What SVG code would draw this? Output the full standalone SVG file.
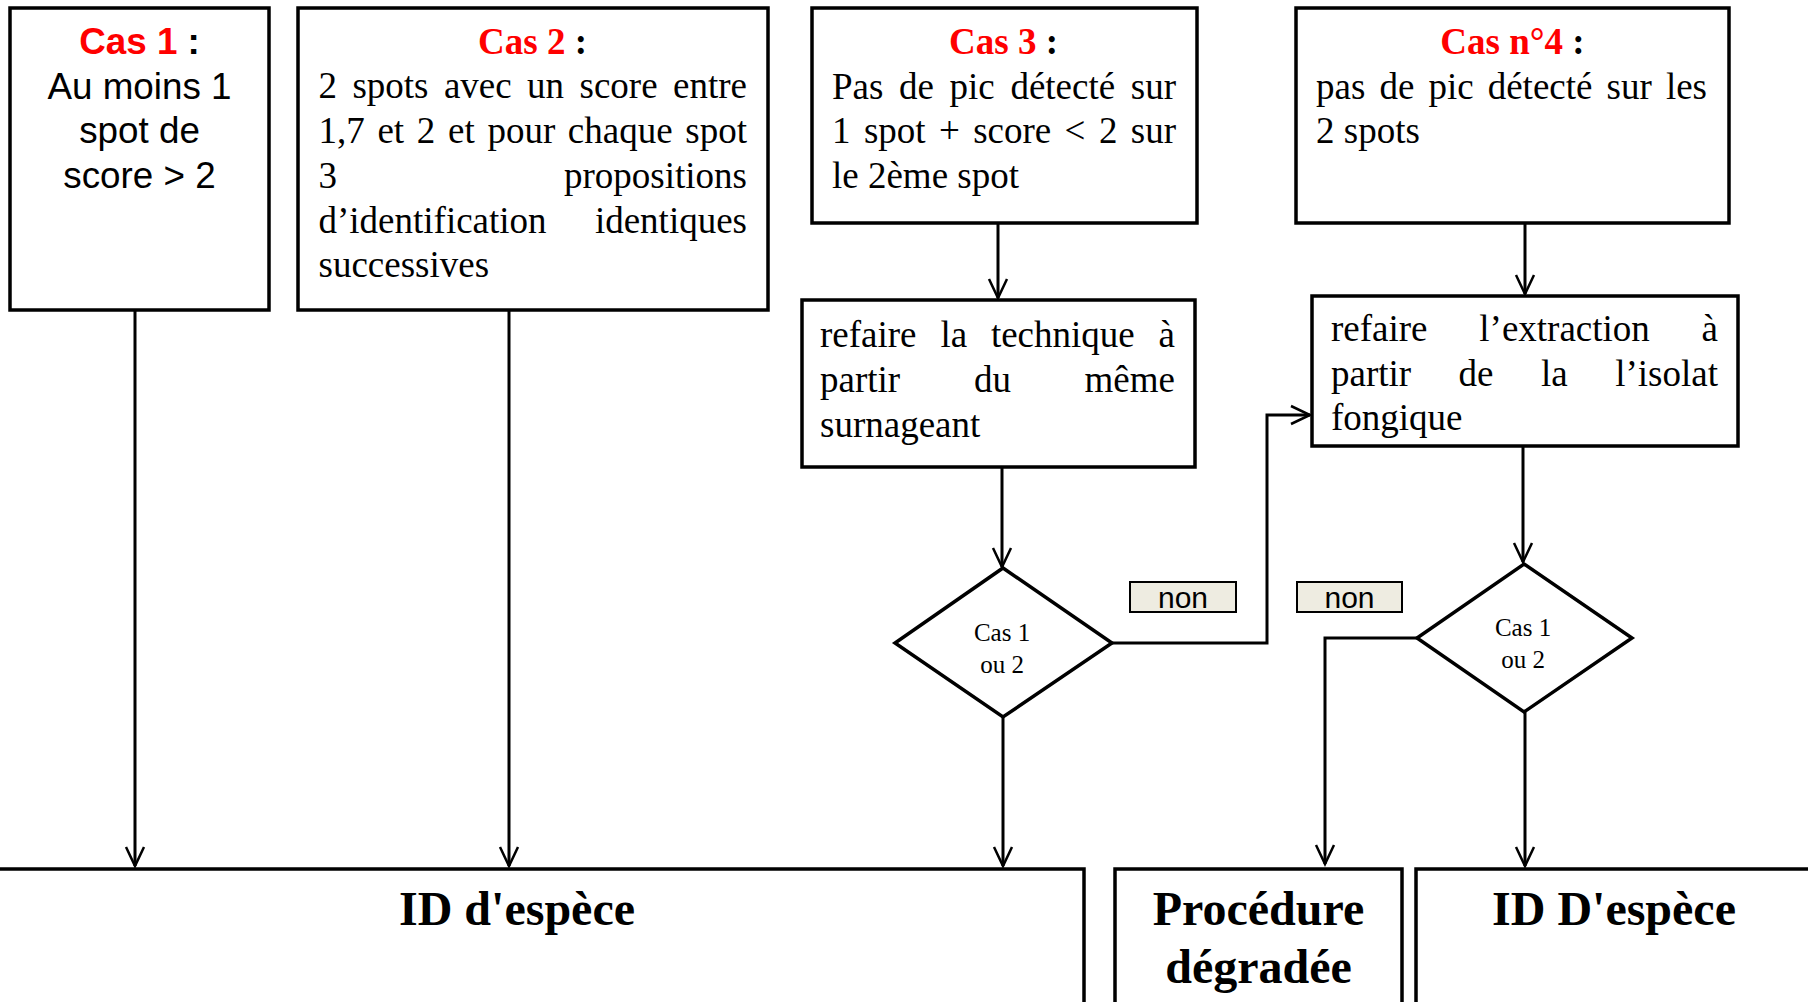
<svg xmlns="http://www.w3.org/2000/svg" width="1808" height="1002" viewBox="0 0 1808 1002">
  <style>
    .box { fill: #ffffff; stroke: #000000; stroke-width: 3.5; }
    .dia { fill: #ffffff; stroke: #000000; stroke-width: 3.5; }
    .tag { fill: #eeece1; stroke: #000000; stroke-width: 2; }
    .edge { fill: none; stroke: #000000; stroke-width: 3; }
    .sans { font-family: "Liberation Sans", Arial, sans-serif; font-size: 36.8px; fill: #000; }
    .serif { font-family: "Liberation Serif", "Times New Roman", serif; font-size: 37px; fill: #000; }
    .title { font-weight: bold; }
    .red { fill: #ff0000; }
    .small { font-family: "Liberation Serif", "Times New Roman", serif; font-size: 25px; fill: #000; }
    .lbl { font-family: "Liberation Sans", Arial, sans-serif; font-size: 30px; fill: #000; }
    .big { font-family: "Liberation Serif", "Times New Roman", serif; font-size: 48px; font-weight: bold; fill: #000; }
  </style>
  <defs>
    <marker id="arr" viewBox="0 0 22 20" markerWidth="22" markerHeight="20" refX="20" refY="10" orient="auto" markerUnits="userSpaceOnUse" overflow="visible">
      <path d="M1,1 L20,10 L1,19" fill="none" stroke="#000" stroke-width="2.5"/>
    </marker>
  </defs>

  <rect width="1808" height="1002" fill="#ffffff"/>

  <!-- connectors -->
  <g id="connectors">
    <path class="edge" d="M135,310 V866" marker-end="url(#arr)"/>
    <path class="edge" d="M509,311 V866" marker-end="url(#arr)"/>
    <path class="edge" d="M998,224 V298" marker-end="url(#arr)"/>
    <path class="edge" d="M1525,220 V294" marker-end="url(#arr)"/>
    <path class="edge" d="M1002,467 V567" marker-end="url(#arr)"/>
    <path class="edge" d="M1523,446 V562" marker-end="url(#arr)"/>
    <path class="edge" d="M1003,717 V866" marker-end="url(#arr)"/>
    <path class="edge" d="M1525,712 V866" marker-end="url(#arr)"/>
    <path class="edge" d="M1112,643 H1267 V415 H1310" marker-end="url(#arr)"/>
    <path class="edge" d="M1417,638 H1325 V864" marker-end="url(#arr)"/>
  </g>

  <!-- Cas 1 -->
  <g id="cas1">
    <rect class="box" x="10" y="8" width="259" height="302"/>
    <text class="sans title" x="139.5" y="53.5" text-anchor="middle"><tspan class="red">Cas 1</tspan> :</text>
    <text class="sans" x="139.5" y="98.5" text-anchor="middle">Au moins 1</text>
    <text class="sans" x="139.5" y="143" text-anchor="middle">spot de</text>
    <text class="sans" x="139.5" y="187.5" text-anchor="middle">score &gt; 2</text>
  </g>

  <!-- Cas 2 -->
  <g id="cas2">
    <rect class="box" x="298" y="8" width="470" height="302"/>
    <text class="serif title" x="532.5" y="53.5" text-anchor="middle"><tspan class="red">Cas 2</tspan> :</text>
    <text class="serif" y="98.3"><tspan x="318.5">2</tspan><tspan x="352.4">spots</tspan><tspan x="443.9">avec</tspan><tspan x="527.1">un</tspan><tspan x="579.5">score</tspan><tspan x="673">entre</tspan></text>
    <text class="serif" y="142.9"><tspan x="318.5">1,7</tspan><tspan x="377.4">et</tspan><tspan x="416.8">2</tspan><tspan x="448">et</tspan><tspan x="487.4">pour</tspan><tspan x="567.8">chaque</tspan><tspan x="685.3">spot</tspan></text>
    <text class="serif" x="318.5" y="187.7">3</text>
    <text class="serif" x="747" y="187.7" text-anchor="end">propositions</text>
    <text class="serif" x="318.5" y="232.5">d’identification</text>
    <text class="serif" x="747" y="232.5" text-anchor="end">identiques</text>
    <text class="serif" x="318.5" y="277.2">successives</text>
  </g>

  <!-- Cas 3 -->
  <g id="cas3">
    <rect class="box" x="812" y="8" width="385" height="215"/>
    <text class="serif title" x="1003.5" y="53.5" text-anchor="middle"><tspan class="red">Cas 3</tspan> :</text>
    <text class="serif" y="98.8"><tspan x="832">Pas</tspan><tspan x="899">de</tspan><tspan x="949.6">pic</tspan><tspan x="1010.4">détecté</tspan><tspan x="1130.8">sur</tspan></text>
    <text class="serif" y="143.3"><tspan x="832">1</tspan><tspan x="863.9">spot</tspan><tspan x="938.9">+</tspan><tspan x="973.2">score</tspan><tspan x="1064.6">&lt;</tspan><tspan x="1098.9">2</tspan><tspan x="1130.8">sur</tspan></text>
    <text class="serif" x="832" y="187.8">le 2ème spot</text>
  </g>

  <!-- Cas n°4 -->
  <g id="cas4">
    <rect class="box" x="1296" y="8" width="433" height="215"/>
    <text class="serif title" x="1512.5" y="53.5" text-anchor="middle"><tspan class="red">Cas n°4</tspan> :</text>
    <text class="serif" y="98.8"><tspan x="1316">pas</tspan><tspan x="1379.4">de</tspan><tspan x="1428.4">pic</tspan><tspan x="1487.7">détecté</tspan><tspan x="1606.6">sur</tspan><tspan x="1665.9">les</tspan></text>
    <text class="serif" x="1316" y="143.3">2 spots</text>
  </g>

  <!-- refaire la technique -->
  <g id="refaire-technique">
    <rect class="box" x="802" y="300" width="393" height="167"/>
    <text class="serif" y="346.5"><tspan x="820">refaire</tspan><tspan x="940.4">la</tspan><tspan x="990.9">technique</tspan><tspan x="1175" text-anchor="end">à</tspan></text>
    <text class="serif" y="391.5"><tspan x="820">partir</tspan><tspan x="973.9">du</tspan><tspan x="1175" text-anchor="end">même</tspan></text>
    <text class="serif" x="820" y="436.5">surnageant</text>
  </g>

  <!-- refaire l'extraction -->
  <g id="refaire-extraction">
    <rect class="box" x="1312" y="296" width="426" height="150"/>
    <text class="serif" y="341"><tspan x="1331">refaire</tspan><tspan x="1479.3">l’extraction</tspan><tspan x="1718" text-anchor="end">à</tspan></text>
    <text class="serif" y="385.5"><tspan x="1331">partir</tspan><tspan x="1458.6">de</tspan><tspan x="1541">la</tspan><tspan x="1718" text-anchor="end">l’isolat</tspan></text>
    <text class="serif" x="1331" y="430">fongique</text>
  </g>

  <!-- decision 1 -->
  <g id="decision1">
    <polygon class="dia" points="1003,568 1112,643 1003,717 895,643"/>
    <text class="small" x="1002" y="641" text-anchor="middle">Cas 1</text>
    <text class="small" x="1002" y="673" text-anchor="middle">ou 2</text>
  </g>

  <!-- decision 2 -->
  <g id="decision2">
    <polygon class="dia" points="1524,564 1632,638 1524,712 1417,638"/>
    <text class="small" x="1523" y="636" text-anchor="middle">Cas 1</text>
    <text class="small" x="1523" y="668" text-anchor="middle">ou 2</text>
  </g>

  <!-- "non" tags -->
  <g id="non1">
    <rect class="tag" x="1130" y="582" width="106" height="30"/>
    <text class="lbl" x="1183" y="607.5" text-anchor="middle">non</text>
  </g>
  <g id="non2">
    <rect class="tag" x="1297" y="582" width="105" height="30"/>
    <text class="lbl" x="1349.5" y="607.5" text-anchor="middle">non</text>
  </g>

  <!-- outcomes -->
  <g id="id-espece">
    <rect class="box" x="-10" y="869" width="1094" height="150"/>
    <text class="big" x="517" y="925" text-anchor="middle">ID d'espèce</text>
  </g>
  <g id="procedure-degradee">
    <rect class="box" x="1115" y="869" width="287" height="150"/>
    <text class="big" x="1258.5" y="925" text-anchor="middle">Procédure</text>
    <text class="big" x="1258.5" y="983" text-anchor="middle">dégradée</text>
  </g>
  <g id="id-espece-2">
    <rect class="box" x="1416" y="869" width="410" height="150"/>
    <text class="big" x="1614" y="925" text-anchor="middle">ID D'espèce</text>
  </g>
</svg>
